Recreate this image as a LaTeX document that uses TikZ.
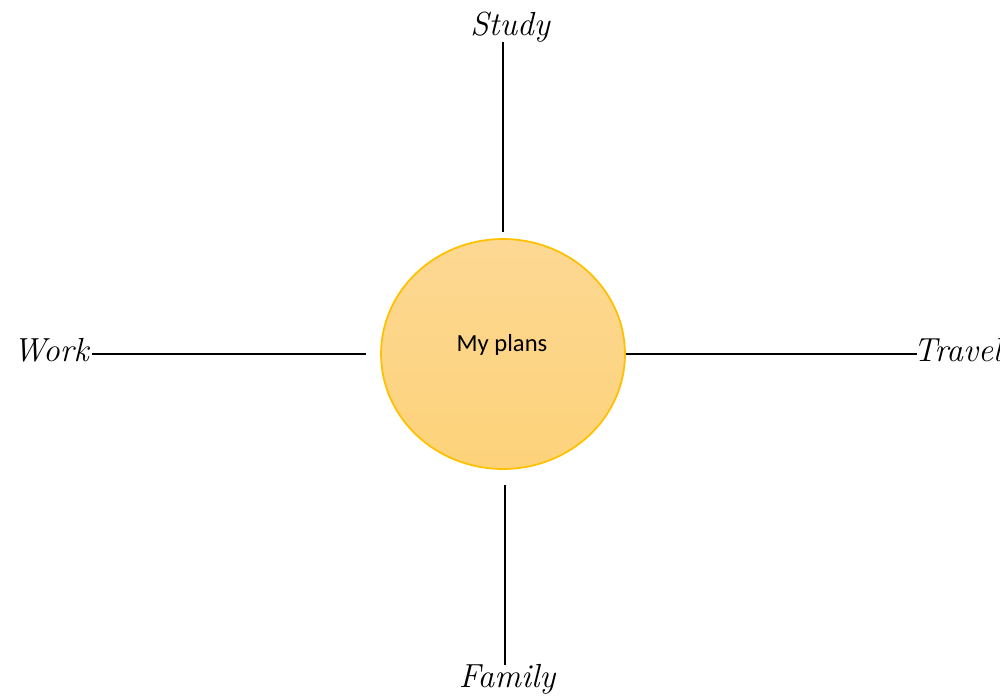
\documentclass[tikz,border=0pt]{standalone}
\usepackage{fontspec}
\setmainfont{Carlito}
\newfontfamily\handfont{Latin Modern Roman}
\usetikzlibrary{shapes.geometric}
\definecolor{planfill}{HTML}{FDD893}
\definecolor{planfillb}{HTML}{FDD27A}
\definecolor{planedge}{HTML}{FFC000}
\tikzset{
  plan/.style={ellipse,draw=planedge,line width=1pt,top color=planfill,bottom color=planfillb,
    minimum width=4.88cm,minimum height=4.6cm,inner sep=0pt},
  aim/.style={inner sep=0pt,font=\handfont\itshape\fontsize{19}{23}\selectfont},
  spoke/.style={line width=0.8pt}
}
\begin{document}
\begin{tikzpicture}[x=0.02cm,y=-0.02cm]
  \useasboundingbox (0,0) rectangle (1000,696);
  \node[plan] (plans) at (503,354) {};
  \node[font=\fontsize{14}{16}\selectfont] (plantext) at (502,345) {My plans};
  \node[aim,anchor=base] (study) at (510,36) {Study};
  \node[aim,anchor=base east] (work) at (89,361) {Work};
  \node[aim,anchor=base west] (travel) at (913,361) {Travel};
  \node[aim,anchor=base] (family) at (507,687) {Family};
  \coordinate (studyend) at (503,232);
  \coordinate (workend) at (366,354);
  \coordinate (familyend) at (505,485);
  \draw[spoke] (503,42) -- (studyend);
  \draw[spoke] (workend) -- (92,354);
  \draw[spoke] (plans.east) -- (917,354);
  \draw[spoke] (familyend) -- (505,665);
\end{tikzpicture}
\end{document}
